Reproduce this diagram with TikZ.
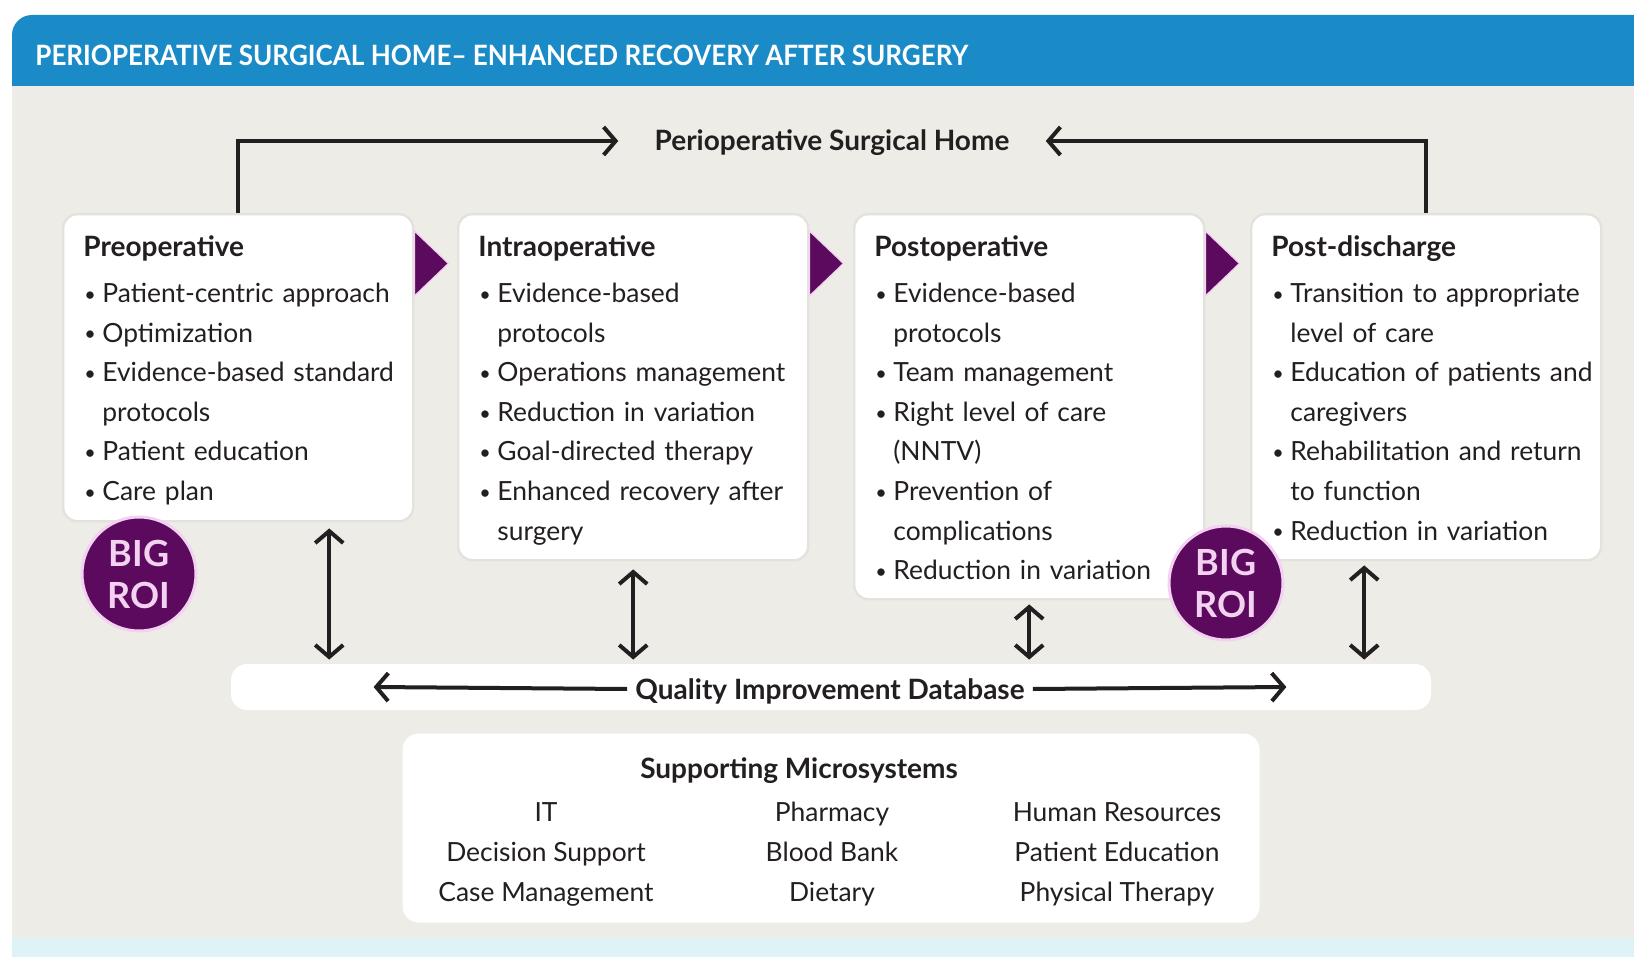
\documentclass[tikz,border=0pt]{standalone}
\usepackage{fontspec}
\setmainfont{Lato}
\usepackage{graphicx}
\usepackage{tikz}
\usetikzlibrary{arrows.meta,positioning}

\definecolor{headblue}{RGB}{27,139,200}
\definecolor{paper}{RGB}{238,236,231}
\definecolor{footcyan}{RGB}{222,243,245}
\definecolor{roipurple}{RGB}{92,10,94}
\definecolor{roipink}{RGB}{243,210,241}
\definecolor{ink}{RGB}{35,31,32}
\definecolor{boxrim}{RGB}{228,226,220}

\newcommand{\bodyfont}{\fontsize{13.2}{19.8}\selectfont}
\newcommand{\headfont}{\fontsize{14}{19.8}\selectfont\bfseries}
\newcommand{\bulitem}{\makebox[9.5pt][l]{\hspace{0.5pt}\raisebox{0.6pt}{\scalebox{0.75}{\textbullet}}}}
\newcommand{\wrapind}{\hspace*{9.5pt}}

\begin{document}
\begin{tikzpicture}[x=0.5pt, y=-0.5pt, >={Straight Barb[length=6pt,width=14pt]},
    stage/.style={anchor=north west, fill=white, draw=boxrim, line width=1.2pt,
        rounded corners=7pt, minimum width=175pt, inner sep=0pt},
    list/.style={anchor=base west, text width=185pt, align=left, inner sep=0pt,
        font=\bodyfont, text=ink},
    heading/.style={font=\headfont, text=ink, inner sep=0pt, text height=10pt, text depth=0pt},
    msys/.style={font=\bodyfont, text=ink, inner sep=0pt, text height=9.5pt, text depth=0pt},
    roi/.style={circle, fill=roipurple, draw=roipink, line width=1.5pt, minimum size=57pt,
        inner sep=0pt, align=center, text=roipink, font=\fontsize{18}{21}\selectfont\bfseries},
    tri/.style={fill=roipurple, draw=roipink, line width=0.6pt},
    link/.style={draw=ink, line width=2pt}]

    \useasboundingbox (0,0) rectangle (1634,957);
    \fill[white] (0,0) rectangle (1634,957);
    \fill[headblue, rounded corners=10pt] (12,15) rectangle (1680,110);
    \fill[paper] (12,86) rectangle (1634,938);
    \fill[footcyan] (12,938) rectangle (1634,957);

    \node[anchor=west, text=white, inner sep=0pt, font=\fontsize{14}{16}\selectfont\bfseries] (title) at (35,55)
        {\scalebox{0.93}[1]{PERIOPERATIVE SURGICAL HOME– ENHANCED RECOVERY AFTER SURGERY}};

    % the four stages
    \node[stage, minimum height=153.5pt] (pre) at (62,213) {};
    \node[stage, minimum height=173pt] (intra) at (457,213) {};
    \node[stage, minimum height=192.5pt] (post) at (853,213) {};
    \node[stage, minimum height=173pt] (disch) at (1250,213) {};

    \node[list] (pretxt) at ([xshift=10.5pt,yshift=-22pt]pre.north west) {{\headfont Preoperative}\\[2.95pt]
        \bulitem Patient-centric approach\\
        \bulitem Optimization\\
        \bulitem Evidence-based standard\\
        \wrapind protocols\\
        \bulitem Patient education\\
        \bulitem Care plan};
    \node[list] (intratxt) at ([xshift=10.5pt,yshift=-22pt]intra.north west) {{\headfont Intraoperative}\\[2.95pt]
        \bulitem Evidence-based\\
        \wrapind protocols\\
        \bulitem Operations management\\
        \bulitem Reduction in variation\\
        \bulitem Goal-directed therapy\\
        \bulitem Enhanced recovery after\\
        \wrapind surgery};
    \node[list] (posttxt) at ([xshift=10.5pt,yshift=-22pt]post.north west) {{\headfont Postoperative}\\[2.95pt]
        \bulitem Evidence-based\\
        \wrapind protocols\\
        \bulitem Team management\\
        \bulitem Right level of care\\
        \wrapind (NNTV)\\
        \bulitem Prevention of\\
        \wrapind complications\\
        \bulitem Reduction in variation};
    \node[list] (dischtxt) at ([xshift=10.5pt,yshift=-22pt]disch.north west) {{\headfont Post-discharge}\\[2.95pt]
        \bulitem Transition to appropriate\\
        \wrapind level of care\\
        \bulitem Education of patients and\\
        \wrapind caregivers\\
        \bulitem Rehabilitation and return\\
        \wrapind to function\\
        \bulitem Reduction in variation};

    \filldraw[tri] ([yshift=-9pt]pre.north east) -- ++(17pt,-16.25pt) -- ++(-17pt,-16.25pt) -- cycle;
    \filldraw[tri] ([yshift=-9pt]intra.north east) -- ++(17pt,-16.25pt) -- ++(-17pt,-16.25pt) -- cycle;
    \filldraw[tri] ([yshift=-9pt]post.north east) -- ++(17pt,-16.25pt) -- ++(-17pt,-16.25pt) -- cycle;

    \node[roi] (roi1) at (139,574) {BIG\\ROI};
    \node[roi] (roi2) at (1226,583) {BIG\\ROI};

    % surgical home on top
    \node[heading, inner xsep=18pt] (psh) at (832,141) {Perioperative Surgical Home};
    \draw[link, ->] (pre.north) |- (psh.west);
    \draw[link, ->] (disch.north) |- (psh.east);

    % database bar
    \node[fill=white, rounded corners=8pt, minimum width=600pt, minimum height=23pt, inner sep=0pt] (qbar) at (831,687) {};
    \node[heading, inner xsep=4pt] (qdb) at (830,689) {Quality Improvement Database};
    \coordinate (qL) at ([xshift=71.5pt]qbar.west);
    \coordinate (qR) at ([xshift=-72.5pt]qbar.east);
    \draw[link, ->] (qdb.west) -- (qL);
    \draw[link, ->] (qdb.east) -- (qR);

    \coordinate (a1) at ([xshift=45.5pt]pre.south);
    \coordinate (a4) at ([xshift=-31pt]disch.south);
    \draw[link, <->, shorten <=3pt, shorten >=2pt] (a1) -- (a1 |- qbar.north);
    \draw[link, <->, shorten <=4pt, shorten >=2pt] (intra.south) -- (intra.south |- qbar.north);
    \draw[link, <->, shorten <=2pt, shorten >=2pt] (post.south) -- (post.south |- qbar.north);
    \draw[link, <->, shorten <=2pt, shorten >=2pt] (a4) -- (a4 |- qbar.north);

    % supporting microsystems
    \node[fill=white, rounded corners=8pt, minimum width=428.5pt, minimum height=94.5pt, inner sep=0pt] (sup) at (831,828) {};
    \node[heading] (suptitle) at (799,768) {Supporting Microsystems};
    \node[msys] (it) at (546,812) {IT};
    \node[msys] (pharm) at (832,812) {Pharmacy};
    \node[msys] (hr) at (1117,812) {Human Resources};
    \node[msys] (dec) at (546,852) {Decision Support};
    \node[msys] (blood) at (832,852) {Blood Bank};
    \node[msys] (pated) at (1117,852) {Patient Education};
    \node[msys] (case) at (546,892) {Case Management};
    \node[msys] (diet) at (832,892) {Dietary};
    \node[msys] (phys) at (1117,892) {Physical Therapy};

\end{tikzpicture}
\end{document}
